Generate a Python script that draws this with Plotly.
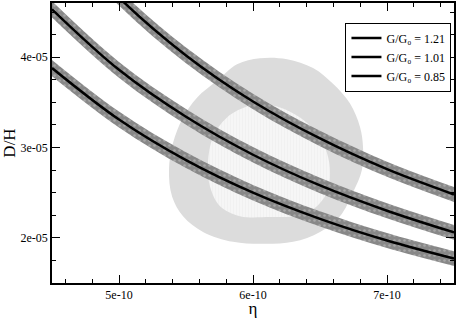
import plotly.graph_objects as go

# ---- data ----
eta = [4.5e-10, 5.0e-10, 5.5e-10, 6.0e-10, 6.5e-10, 7.0e-10, 7.5e-10]
dh_121 = [5.47e-5, 4.66e-5, 4.02e-5, 3.51e-5, 3.10e-5, 2.76e-5, 2.48e-5]
dh_101 = [4.53e-5, 3.86e-5, 3.34e-5, 2.92e-5, 2.58e-5, 2.30e-5, 2.06e-5]
dh_085 = [3.88e-5, 3.31e-5, 2.86e-5, 2.50e-5, 2.21e-5, 1.97e-5, 1.77e-5]
band_halfwidth = [0.090e-5, 0.088e-5, 0.087e-5, 0.086e-5, 0.085e-5, 0.083e-5, 0.082e-5]
labels = ["G/G₀ = 1.21", "G/G₀ = 1.01", "G/G₀ = 0.85"]

outer_eta = [6.052e-10, 6.254e-10, 6.448e-10, 6.597e-10, 6.724e-10, 6.799e-10, 6.821e-10,
             6.813e-10, 6.746e-10, 6.649e-10, 6.500e-10, 6.299e-10, 6.052e-10, 5.851e-10,
             5.627e-10, 5.478e-10, 5.396e-10, 5.373e-10, 5.403e-10, 5.478e-10, 5.582e-10,
             5.731e-10, 5.881e-10, 6.052e-10]
outer_dh = [3.989e-5, 3.978e-5, 3.880e-5, 3.705e-5, 3.486e-5, 3.224e-5, 3.005e-5,
            2.754e-5, 2.503e-5, 2.240e-5, 2.066e-5, 1.956e-5, 1.934e-5, 1.956e-5,
            2.066e-5, 2.240e-5, 2.459e-5, 2.754e-5, 3.049e-5, 3.333e-5, 3.552e-5,
            3.738e-5, 3.923e-5, 3.989e-5]
inner_eta = [6.090e-10, 6.201e-10, 6.351e-10, 6.478e-10, 6.552e-10, 6.575e-10, 6.552e-10,
             6.448e-10, 6.299e-10, 6.127e-10, 5.903e-10, 5.754e-10, 5.679e-10, 5.664e-10,
             5.701e-10, 5.806e-10, 5.978e-10, 6.090e-10]
inner_dh = [3.475e-5, 3.443e-5, 3.333e-5, 3.158e-5, 2.940e-5, 2.721e-5, 2.503e-5,
            2.317e-5, 2.240e-5, 2.230e-5, 2.240e-5, 2.350e-5, 2.568e-5, 2.831e-5,
            3.115e-5, 3.333e-5, 3.464e-5, 3.475e-5]

x_tickvals = [5e-10, 6e-10, 7e-10]
x_ticktext = ["5e-10", "6e-10", "7e-10"]
y_tickvals = [2e-5, 3e-5, 4e-5]
y_ticktext = ["2e-05", "3e-05", "4e-05"]

FONT = "Liberation Serif"
fig = go.Figure()

fig.add_trace(go.Scatter(x=outer_eta, y=outer_dh, mode="lines", line=dict(width=0, shape="spline", smoothing=1.0),
                         fill="toself", fillcolor="#dcdcdc", showlegend=False, hoverinfo="skip"))
fig.add_trace(go.Scatter(x=inner_eta, y=inner_dh, mode="lines", line=dict(width=0, shape="spline", smoothing=1.0),
                         fill="toself", fillcolor="#f4f4f4",
                         fillpattern=dict(shape="|", size=3, solidity=0.3, fgcolor="#ececec", bgcolor="#f6f6f6"),
                         showlegend=False, hoverinfo="skip"))

series = [dh_121, dh_101, dh_085]
for vals in series:
    lower = [v - h for v, h in zip(vals, band_halfwidth)]
    upper = [v + h for v, h in zip(vals, band_halfwidth)]
    fig.add_trace(go.Scatter(x=eta, y=lower, mode="lines", line=dict(width=0, shape="spline"),
                             showlegend=False, hoverinfo="skip"))
    fig.add_trace(go.Scatter(x=eta, y=upper, mode="lines", line=dict(width=0, shape="spline"),
                             fill="tonexty", fillcolor="#888888",
                             fillpattern=dict(shape=".", size=5, solidity=0.2, fgcolor="#c4c4c4", bgcolor="#888888"),
                             showlegend=False, hoverinfo="skip"))

for vals, lab in zip(series, labels):
    fig.add_trace(go.Scatter(x=eta, y=vals, mode="lines", name=lab,
                             line=dict(color="black", width=2.5, shape="spline")))

axis_common = dict(showline=True, linecolor="black", linewidth=1.5, mirror="ticks",
                   ticks="inside", ticklen=8, tickwidth=1, tickcolor="black",
                   showgrid=False, zeroline=False,
                   tickfont=dict(family=FONT, size=12, color="black"))

fig.update_xaxes(range=[4.5e-10, 7.5e-10], tickmode="array", tickvals=x_tickvals, ticktext=x_ticktext,
                 minor=dict(ticks="inside", ticklen=4, dtick=2e-11, tick0=0, tickcolor="black", showgrid=False),
                 title=dict(text="η", font=dict(family=FONT, size=17, color="black"), standoff=3),
                 **axis_common)
fig.update_yaxes(range=[1.5e-5, 4.6e-5], tickmode="array", tickvals=y_tickvals, ticktext=y_ticktext,
                 minor=dict(ticks="inside", ticklen=4, dtick=2.5e-6, tick0=0, tickcolor="black", showgrid=False),
                 title=dict(text="D/H", font=dict(family=FONT, size=17, color="black"), standoff=5),
                 **axis_common)

fig.update_layout(
    width=457, height=318,
    margin=dict(l=52, r=1, t=1, b=34),
    plot_bgcolor="white", paper_bgcolor="white",
    font=dict(family=FONT, color="black"),
    legend=dict(x=0.73, y=0.93, xanchor="left", yanchor="top",
                bgcolor="white", bordercolor="black", borderwidth=1,
                font=dict(family=FONT, size=12, color="black"),
                itemwidth=30, tracegroupgap=0, traceorder="normal"),
    showlegend=True,
)

fig.write_html("out.html", config={"displayModeBar": False},
               post_script="document.body.style.margin='0';document.body.style.overflow='hidden';")
